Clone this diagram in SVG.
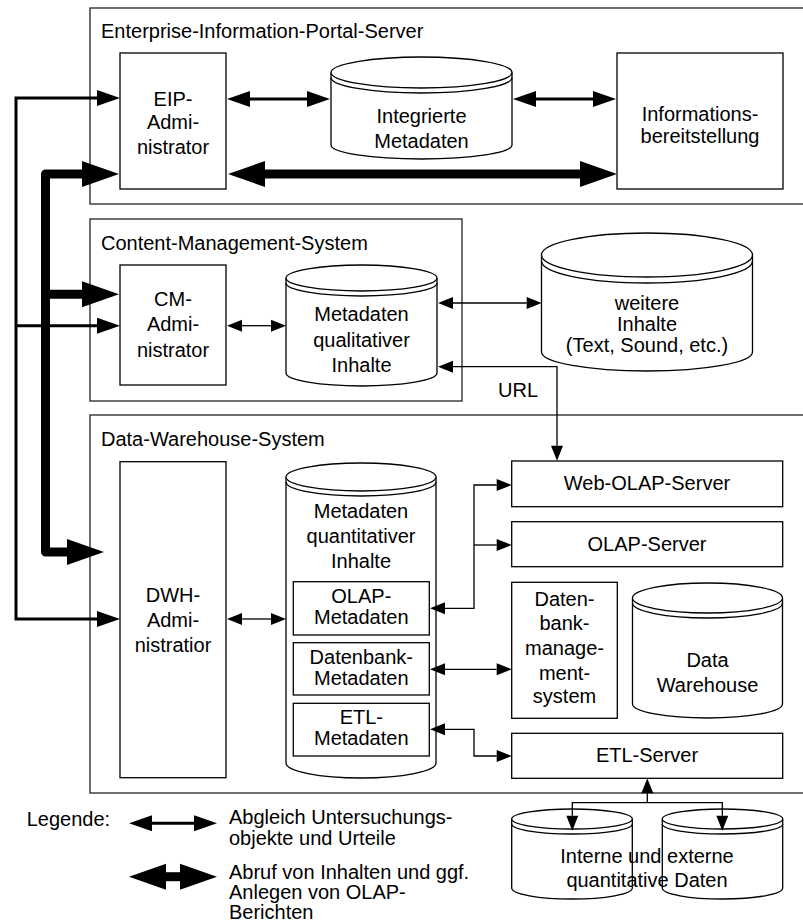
<svg xmlns="http://www.w3.org/2000/svg" width="803" height="922" viewBox="0 0 803 922">
<style>
text{font-family:"Liberation Sans",Arial,sans-serif;font-size:20px;fill:#000}
.c{text-anchor:middle}
.box{fill:#fff;stroke:#000;stroke-width:1.3}
.frame{fill:none;stroke:#222;stroke-width:1.3}
.cyl{fill:#fff;stroke:#000;stroke-width:1.3}
.cl{fill:none;stroke:#000;stroke-width:1.3}
.thin{fill:none;stroke:#000;stroke-width:1.3;marker-start:url(#hs);marker-end:url(#hs)}
.thin1{fill:none;stroke:#000;stroke-width:1.3;marker-end:url(#hs)}
.thin0{fill:none;stroke:#000;stroke-width:1.3;marker-start:url(#hs)}
.med{fill:none;stroke:#000;stroke-width:3;marker-start:url(#hm);marker-end:url(#hm)}
.med1{fill:none;stroke:#000;stroke-width:3;marker-end:url(#hm)}
.thick{fill:none;stroke:#000;stroke-width:9;stroke-linejoin:round;marker-start:url(#hl);marker-end:url(#hl)}
.thick1{fill:none;stroke:#000;stroke-width:9;marker-end:url(#hl)}
</style>
<defs>
<marker id="hs" markerUnits="userSpaceOnUse" markerWidth="16" markerHeight="12" refX="0" refY="6" orient="auto-start-reverse" overflow="visible"><path d="M0,0 L15,6 L0,12 Z" fill="#000"/></marker>
<marker id="hm" markerUnits="userSpaceOnUse" markerWidth="23" markerHeight="16" refX="0" refY="8" orient="auto-start-reverse" overflow="visible"><path d="M0,0 L23,8 L0,16 Z" fill="#000"/></marker>
<marker id="hl" markerUnits="userSpaceOnUse" markerWidth="37" markerHeight="26" refX="0" refY="13" orient="auto-start-reverse" overflow="visible"><path d="M0,0 L37,13 L0,26 Z" fill="#000"/></marker>
</defs>
<rect width="803" height="922" fill="#fff"/>

<g id="eip-frame">
<rect class="frame" x="90" y="8" width="730" height="196"/>
<text x="101" y="37.7">Enterprise-Information-Portal-Server</text>
</g>
<g id="cms-frame">
<rect class="frame" x="90" y="219" width="372" height="182"/>
<text x="101" y="250">Content-Management-System</text>
</g>
<g id="dwh-frame">
<rect class="frame" x="90" y="415" width="730" height="378"/>
<text x="101" y="446">Data-Warehouse-System</text>
</g>

<g id="eip-admin">
<rect class="box" x="120" y="53" width="106" height="136"/>
<text class="c" x="173" y="106">EIP-</text>
<text class="c" x="173" y="129">Admi-</text>
<text class="c" x="173" y="154">nistrator</text>
</g>

<g id="integrierte-metadaten">
<path class="cyl" d="M331,72.5 V145 A90.5,14 0 0 0 512,145 V72.5"/>
<ellipse class="cyl" cx="421.5" cy="72.5" rx="90.5" ry="15.5"/>
<path class="cl" d="M331,77.5 A90.5,15.5 0 0 0 512,77.5"/>
<text class="c" x="421.5" y="123">Integrierte</text>
<text class="c" x="421.5" y="148">Metadaten</text>
</g>

<g id="informationsbereitstellung">
<rect class="box" x="617" y="53" width="166" height="136"/>
<text class="c" x="700" y="120.7">Informations-</text>
<text class="c" x="700" y="143.3">bereitstellung</text>
</g>

<g id="cm-admin">
<rect class="box" x="120" y="265" width="106" height="120"/>
<text class="c" x="173" y="306">CM-</text>
<text class="c" x="173" y="331">Admi-</text>
<text class="c" x="173" y="357">nistrator</text>
</g>

<g id="metadaten-qualitativ">
<path class="cyl" d="M286,278 V373 A75.5,13 0 0 0 437,373 V278"/>
<ellipse class="cyl" cx="361.5" cy="278" rx="75.5" ry="13"/>
<path class="cl" d="M286,283 A75.5,13 0 0 0 437,283"/>
<text class="c" x="361.5" y="320.7">Metadaten</text>
<text class="c" x="361.5" y="346.7">qualitativer</text>
<text class="c" x="361.5" y="371.7">Inhalte</text>
</g>

<g id="weitere-inhalte">
<path class="cyl" d="M541.5,255 V352 A105.5,19 0 0 0 752.5,352 V255"/>
<ellipse class="cyl" cx="647" cy="255" rx="105.5" ry="22"/>
<path class="cl" d="M541.5,261 A105.5,22 0 0 0 752.5,261"/>
<text class="c" x="647" y="310">weitere</text>
<text class="c" x="647" y="330.7">Inhalte</text>
<text class="c" x="647" y="351.7">(Text, Sound, etc.)</text>
</g>

<g id="url-label">
<text x="498" y="397">URL</text>
</g>

<g id="dwh-admin">
<rect class="box" x="120" y="461.7" width="106" height="316"/>
<text class="c" x="173" y="602">DWH-</text>
<text class="c" x="173" y="627">Admi-</text>
<text class="c" x="173" y="652">nistratior</text>
</g>

<g id="metadaten-quantitativ">
<path class="cyl" d="M286,477 V763 A75,15 0 0 0 436,763 V477"/>
<ellipse class="cyl" cx="361" cy="477" rx="75" ry="14"/>
<path class="cl" d="M286,482 A75,14 0 0 0 436,482"/>
<text class="c" x="361" y="518">Metadaten</text>
<text class="c" x="361" y="543">quantitativer</text>
<text class="c" x="361" y="568">Inhalte</text>
</g>
<g id="olap-metadaten">
<rect class="box" x="293.3" y="581.7" width="136" height="53.3"/>
<text class="c" x="361.3" y="603">OLAP-</text>
<text class="c" x="361.3" y="624">Metadaten</text>
</g>
<g id="datenbank-metadaten">
<rect class="box" x="293.3" y="642.7" width="136" height="52.3"/>
<text class="c" x="361.3" y="664">Datenbank-</text>
<text class="c" x="361.3" y="685">Metadaten</text>
</g>
<g id="etl-metadaten">
<rect class="box" x="293.3" y="703.3" width="136" height="52.7"/>
<text class="c" x="361.3" y="724">ETL-</text>
<text class="c" x="361.3" y="745">Metadaten</text>
</g>

<g id="web-olap-server">
<rect class="box" x="511.7" y="461" width="271" height="45.7"/>
<text class="c" x="647" y="490">Web-OLAP-Server</text>
</g>
<g id="olap-server">
<rect class="box" x="511.7" y="521.7" width="271" height="45"/>
<text class="c" x="647" y="550.7">OLAP-Server</text>
</g>
<g id="dbms">
<rect class="box" x="511.7" y="582.3" width="105.6" height="136"/>
<text class="c" x="564.5" y="606">Daten-</text>
<text class="c" x="564.5" y="630">bank-</text>
<text class="c" x="564.5" y="655">manage-</text>
<text class="c" x="564.5" y="680">ment-</text>
<text class="c" x="564.5" y="703">system</text>
</g>
<g id="data-warehouse">
<path class="cyl" d="M632.5,598 V704 A75,14 0 0 0 782.5,704 V598"/>
<ellipse class="cyl" cx="707.5" cy="598" rx="75" ry="15"/>
<path class="cl" d="M632.5,603 A75,15 0 0 0 782.5,603"/>
<text class="c" x="707.5" y="666.7">Data</text>
<text class="c" x="707.5" y="691.7">Warehouse</text>
</g>
<g id="etl-server">
<rect class="box" x="511.7" y="733.3" width="271" height="45"/>
<text class="c" x="647" y="761.7">ETL-Server</text>
</g>

<g id="interne-externe-daten">
<path class="cyl" d="M511.7,819 V888 A60.3,11 0 0 0 632.3,888 V819"/>
<ellipse class="cyl" cx="572" cy="819" rx="60.3" ry="10"/>
<path class="cl" d="M511.7,824 A60.3,10 0 0 0 632.3,824"/>
<path class="cyl" d="M662.3,819 V888 A60.2,11 0 0 0 782.7,888 V819"/>
<ellipse class="cyl" cx="722.5" cy="819" rx="60.2" ry="10"/>
<path class="cl" d="M662.3,824 A60.2,10 0 0 0 782.7,824"/>
<text class="c" x="647" y="862.7">Interne und externe</text>
<text class="c" x="647" y="886.7">quantitative Daten</text>
</g>

<g id="connectors">
<path class="med" d="M250,99 H307"/>
<path class="med" d="M536,99 H593"/>
<path class="med" d="M97,98 H16 V619 H97"/>
<path class="med1" d="M16,325.7 H97"/>
<path class="thick" d="M265,174 H580"/>
<path class="thick" d="M82,174 H45.5 V552 H67"/>
<path class="thick1" d="M45.5,294.3 H82"/>
<path class="thin" d="M242,325.7 H271"/>
<path class="thin" d="M453,303 H526.7"/>
<path class="thin" d="M453,366.7 H557 V445.7"/>
<path class="thin" d="M242,619 H271"/>
<path class="thin" d="M445,608.3 H474 V485 H496.7"/>
<path class="thin1" d="M474,545 H496.7"/>
<path class="thin" d="M445,669.3 H496.7"/>
<path class="thin" d="M445,729.3 H474 V756 H496.7"/>
<path class="thin0" d="M647.3,793.3 V802.7"/>
<path class="thin" d="M572.3,815.7 V802.7 H722.3 V815.7"/>
</g>

<g id="legend">
<text x="26.7" y="826">Legende:</text>
<path class="med" d="M152,823.3 H194"/>
<path class="thick" d="M166,876.7 H180"/>
<text x="229" y="824">Abgleich Untersuchungs-</text>
<text x="229" y="845">objekte und Urteile</text>
<text x="229" y="879">Abruf von Inhalten und ggf.</text>
<text x="229" y="899">Anlegen von OLAP-</text>
<text x="229" y="919">Berichten</text>
</g>
</svg>
